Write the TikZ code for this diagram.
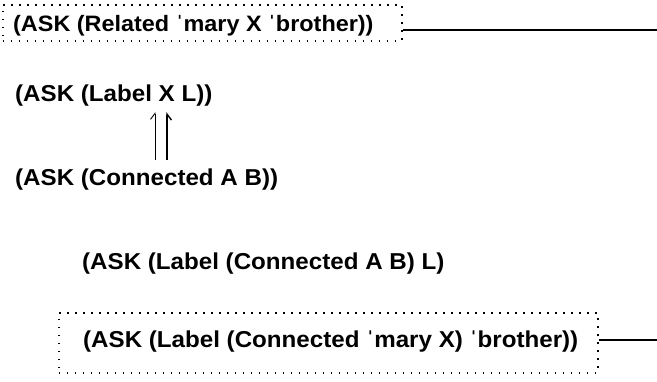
\documentclass[tikz,border=0pt]{standalone}
\usepackage{fontspec}
\setmainfont{Liberation Sans}[Ligatures=ResetAll,FakeStretch=1.05]
\usetikzlibrary{arrows.meta}
\newcommand{\sq}{ˈ}
\begin{document}
\begin{tikzpicture}[x=1pt,y=-1pt,
  txt/.style={anchor=base west, inner sep=0pt, font=\fontsize{23}{27}\selectfont\bfseries},
  txtn/.style={anchor=base west, inner sep=0pt, font=\fontsize{22.3}{27}\selectfont\bfseries},
  dotbox/.style={draw, line width=1.6pt, dash pattern=on 1.6pt off 6.4pt, anchor=north west, inner sep=0pt},
  rule/.style={line width=1.6pt},
  harpL/.style={line width=0.9pt, -{Straight Barb[harpoon,length=6pt,width=9pt]}},
  harpR/.style={line width=1.4pt, -{Straight Barb[harpoon,swap,length=6pt,width=9pt]}}]
\useasboundingbox (0,0) rectangle (657,382);
% box 1
\node[dotbox, minimum width=399pt, minimum height=36pt] (box1) at (2,4) {};
\node[txtn] (l1) at (13,32) {(ASK (Related \sq mary X \sq brother))};
\coordinate (e1) at (657,30);
\draw[rule] (box1.east |- e1) -- (e1);
% lines 2 and 3
\node[txt] (l2) at (15,102) {(ASK (Label X L))};
\node[txt] (l3) at (15,186) {(ASK (Connected A B))};
\coordinate (a1s) at (155,160);
\coordinate (a1e) at (155,112);
\coordinate (a2s) at (167,160);
\coordinate (a2e) at (167,112);
\draw[harpL] (a1s) -- (a1e);
\draw[harpR] (a2s) -- (a2e);
% line 4
\node[txt] (l4) at (82,270) {(ASK (Label (Connected A B) L)};
% box 2
\node[dotbox, minimum width=539pt, minimum height=60pt] (box2) at (58,312) {};
\node[txt] (l5) at (83,348) {(ASK (Label (Connected \sq mary X) \sq brother))};
\coordinate (e2) at (657,340);
\draw[rule] (box2.east |- e2) -- (e2);
\end{tikzpicture}
\end{document}
